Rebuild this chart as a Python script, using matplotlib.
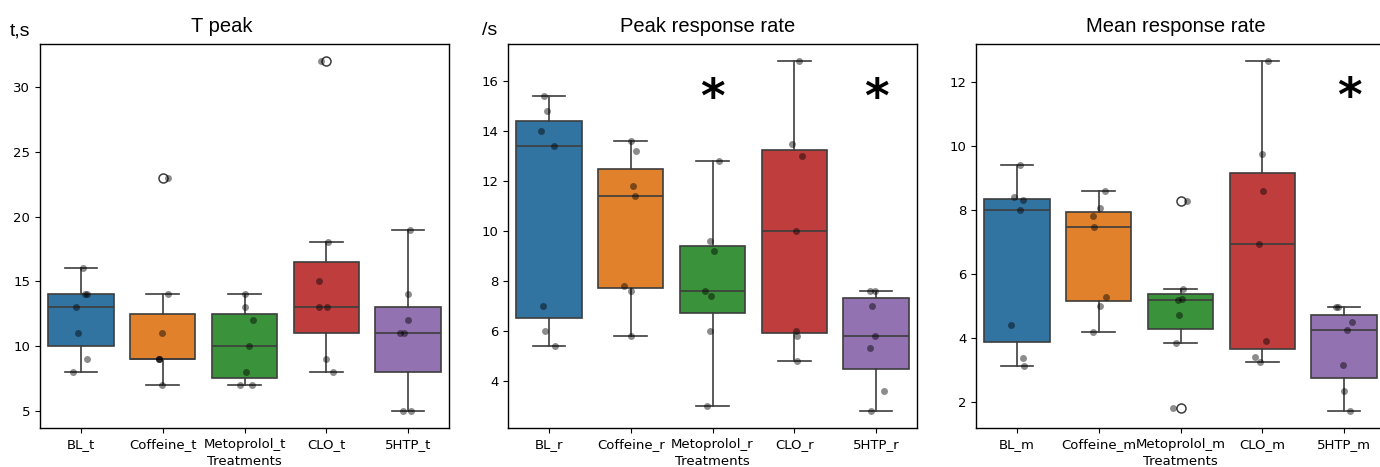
import numpy as np
import matplotlib
matplotlib.use("Agg")
import matplotlib.pyplot as plt

# ---------------- data ----------------
treat_t = ["BL_t", "Coffeine_t", "Metoprolol_t", "CLO_t", "5HTP_t"]
treat_r = ["BL_r", "Coffeine_r", "Metoprolol_r", "CLO_r", "5HTP_r"]
treat_m = ["BL_m", "Coffeine_m", "Metoprolol_m", "CLO_m", "5HTP_m"]

bl_t = [16, 14, 14, 13, 11, 9, 8]
coffeine_t = [23, 14, 11, 9, 9, 9, 7]
metoprolol_t = [14, 13, 12, 10, 8, 7, 7]
clo_t = [32, 18, 15, 13, 13, 9, 8]
htp_t = [19, 14, 12, 11, 11, 5, 5]

bl_r = [15.4, 14.8, 14.0, 13.4, 7.0, 6.0, 5.4]
coffeine_r = [13.6, 13.2, 11.8, 11.4, 7.8, 7.6, 5.8]
metoprolol_r = [12.8, 9.6, 9.2, 7.6, 7.4, 6.0, 3.0]
clo_r = [16.8, 13.5, 13.0, 10.0, 6.0, 5.8, 4.8]
htp_r = [7.6, 7.6, 7.0, 5.8, 5.3, 3.6, 2.8]

bl_m = [9.4, 8.4, 8.3, 8.0, 4.4, 3.35, 3.1]
coffeine_m = [8.6, 8.05, 7.8, 7.48, 5.28, 5.0, 4.18]
metoprolol_m = [8.28, 5.52, 5.2, 5.18, 4.7, 3.85, 1.8]
clo_m = [12.65, 9.75, 8.58, 6.93, 3.9, 3.4, 3.25]
htp_m = [4.95, 4.95, 4.48, 4.25, 3.15, 2.32, 1.72]

titles = ["T peak", "Peak response rate", "Mean response rate"]
star_groups = [[], ["Metoprolol_r", "5HTP_r"], ["5HTP_m"]]
star_y = [None, 15.27, 11.5]

# ---------------- style ----------------
colors = ["#3274a1", "#e1812c", "#3a923a", "#c03d3e", "#9372b2"]
edge = "#3d3d3d"
W, H = 1380, 467

fig = plt.figure(figsize=(W / 100, H / 100), dpi=100)

panels = [
    (treat_t, [bl_t, coffeine_t, metoprolol_t, clo_t, htp_t], 40),
    (treat_r, [bl_r, coffeine_r, metoprolol_r, clo_r, htp_r], 508),
    (treat_m, [bl_m, coffeine_m, metoprolol_m, clo_m, htp_m], 976),
]
ax_w, ax_top, ax_bot = 409, 44, 428
rng = np.random.default_rng(7)

for i, (cats, series, left) in enumerate(panels):
    ax = fig.add_axes([left / W, (H - ax_bot) / H, ax_w / W, (ax_bot - ax_top) / H])
    pos = np.arange(len(cats))
    bp = ax.boxplot(series, positions=pos, widths=0.8, patch_artist=True, whis=1.5,
                    boxprops=dict(edgecolor=edge, linewidth=1.2),
                    medianprops=dict(color=edge, linewidth=1.2),
                    whiskerprops=dict(color=edge, linewidth=1.2),
                    capprops=dict(color=edge, linewidth=1.2),
                    flierprops=dict(marker="o", markerfacecolor="white",
                                    markeredgecolor=edge, markersize=6.5,
                                    markeredgewidth=1.1),
                    zorder=2)
    for patch, c in zip(bp["boxes"], colors):
        patch.set_facecolor(c)
    for k, vals in enumerate(series):
        jit = rng.uniform(-0.1, 0.1, len(vals))
        ax.scatter(k + jit, vals, s=25, color="black", alpha=0.45,
                   linewidths=0, zorder=3)
    ax.set_xticks(pos)
    ax.set_xticklabels(cats, fontsize=9.5)
    ax.tick_params(axis="y", labelsize=9.5)
    ax.set_xlim(-0.5, len(cats) - 0.5)
    ax.set_xlabel("Treatments", fontsize=9.5, labelpad=3.2)
    for s in ax.spines.values():
        s.set_linewidth(1.0)
    for g in star_groups[i]:
        ax.text(cats.index(g) + (0.07 if i == 2 else 0.0), star_y[i], "*",
                fontsize=34, fontweight="bold",
                ha="center", va="center", color="black")

# titles and unit labels (figure-level, Arial-like)
title_x = [222, 708, 1176]
for tx, t in zip(title_x, titles):
    fig.text(tx / W, 1 - 32 / H, t, fontsize=14.5, family="Liberation Sans",
             ha="center", va="baseline")
fig.text(10 / W, 1 - 35 / H, "t,s", fontsize=14, family="Liberation Sans",
         ha="left", va="baseline")
fig.text(482 / W, 1 - 35 / H, "/s", fontsize=14, family="Liberation Sans",
         ha="left", va="baseline")

fig.savefig("out.png", dpi=100, facecolor="white")
